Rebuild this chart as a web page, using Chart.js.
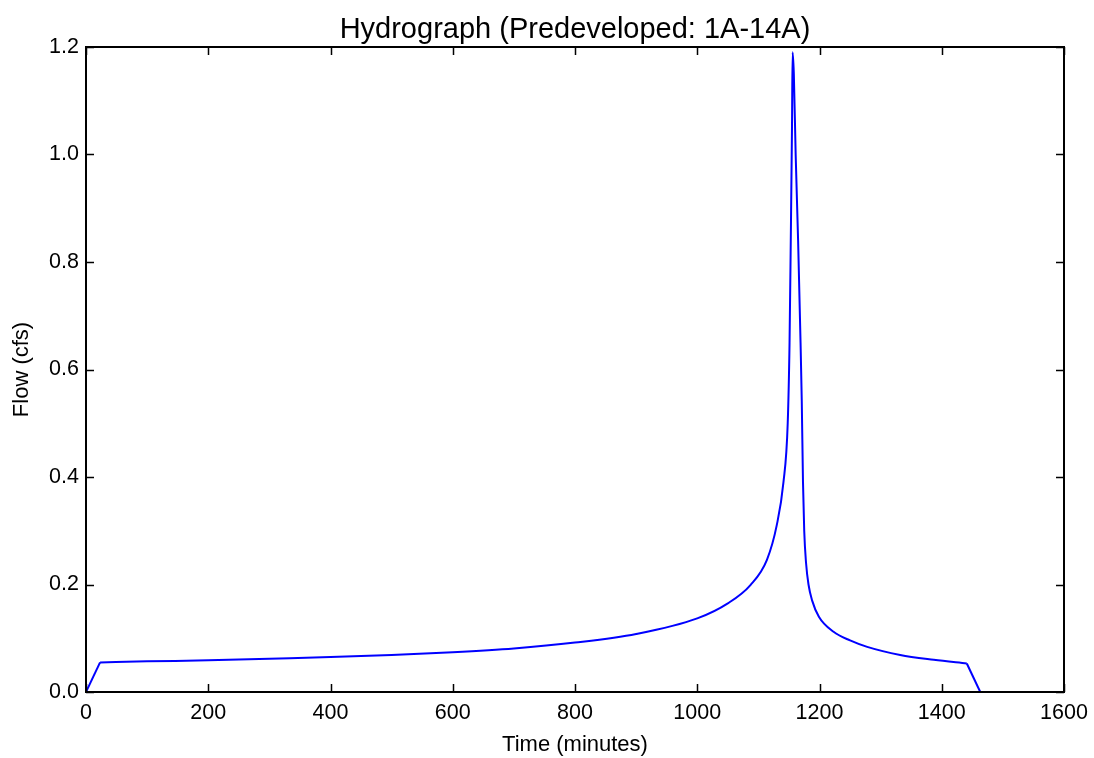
<!DOCTYPE html>
<html lang="en">
<head>
    <meta charset="UTF-8">
    <title>Hydrograph (Predeveloped: 1A-14A)</title>
    <script src="https://cdn.jsdelivr.net/npm/chart.js"></script>
    <style>
        html, body { margin: 0; padding: 0; background: #fff; }
        #wrap { width: 1094px; height: 758px; }
    </style>
</head>
<body>
<div id="wrap"><canvas id="hydro"></canvas></div>
<script>
    // values
    // rising limb from zero to the base flow, main hydrograph, and recession to zero
    const riseTime = [0, 23];
    const riseFlow = [0, 0.055];
    const timeMin = [23, 100, 200, 300, 400, 500, 600, 700, 800, 900, 1000, 1050, 1087, 1114, 1130, 1141, 1148, 1151, 1153, 1155, 1156,
                     1158, 1161, 1165, 1169, 1171, 1173, 1175, 1178, 1182, 1188, 1199, 1223, 1250, 1278, 1332, 1387, 1441];
    const flowCfs = [0.055, 0.057, 0.059, 0.062, 0.065, 0.069, 0.074, 0.081, 0.092, 0.108, 0.137, 0.165, 0.199, 0.246, 0.310, 0.390, 0.50, 0.65, 0.84, 1.05, 1.19,
                     1.15, 1.0, 0.84, 0.65, 0.54, 0.39, 0.30, 0.24, 0.20, 0.17, 0.140, 0.112, 0.096, 0.084, 0.069, 0.060, 0.053];
    const fallTime = [1441, 1463];
    const fallFlow = [0.053, 0];
    const xTicks = [0, 200, 400, 600, 800, 1000, 1200, 1400, 1600];
    const yTicks = [0, 0.2, 0.4, 0.6, 0.8, 1.0, 1.2];
    const chartTitle = 'Hydrograph (Predeveloped: 1A-14A)';

    const font = 'Liberation Sans, Arial, sans-serif';

    // matplotlib-style frame with inward ticks on all four sides, title centred over the axes
    const frameTicks = {
        id: 'frameTicks',
        afterDatasetsDraw(chart) {
            const { ctx, chartArea: a, scales } = chart;
            const len = 8;
            ctx.save();
            ctx.strokeStyle = '#000';
            ctx.lineWidth = 1.5;
            ctx.beginPath();
            xTicks.forEach(v => {
                const px = Math.round(scales.x.getPixelForValue(v)) + 0.5;
                ctx.moveTo(px, a.bottom); ctx.lineTo(px, a.bottom - len);
                ctx.moveTo(px, a.top); ctx.lineTo(px, a.top + len);
            });
            yTicks.forEach(v => {
                const py = Math.round(scales.y.getPixelForValue(v)) + 0.5;
                ctx.moveTo(a.left, py); ctx.lineTo(a.left + len, py);
                ctx.moveTo(a.right, py); ctx.lineTo(a.right - len, py);
            });
            ctx.stroke();
            ctx.lineWidth = 2;
            ctx.strokeRect(a.left, a.top, a.right - a.left, a.bottom - a.top);

            ctx.fillStyle = '#000';
            ctx.font = '29px ' + font;
            ctx.textAlign = 'center';
            ctx.textBaseline = 'middle';
            ctx.fillText(chartTitle, (a.left + a.right) / 2, 30);
            ctx.restore();
        }
    };

    const pts = (xs, ys) => xs.map((t, i) => ({ x: t, y: ys[i] }));
    const lineStyle = { borderColor: '#0000ff', borderWidth: 2, pointRadius: 0, fill: false };

    new Chart(document.getElementById('hydro'), {
        type: 'line',
        data: {
            datasets: [
                { ...lineStyle, data: pts(riseTime, riseFlow), tension: 0 },
                { ...lineStyle, data: pts(timeMin, flowCfs), cubicInterpolationMode: 'monotone' },
                { ...lineStyle, data: pts(fallTime, fallFlow), tension: 0 }
            ]
        },
        options: {
            responsive: true,
            maintainAspectRatio: false,
            animation: false,
            layout: { padding: { left: 0, right: 30, top: 47, bottom: 0 } },
            plugins: {
                legend: { display: false },
                tooltip: { enabled: false },
                title: { display: false }
            },
            scales: {
                x: {
                    type: 'linear',
                    min: 0, max: 1600,
                    afterBuildTicks: s => { s.ticks = xTicks.map(v => ({ value: v })); },
                    afterFit: s => { s.height = 66; s.paddingLeft = 0; s.paddingRight = 0; },
                    grid: { display: false, drawTicks: false },
                    border: { display: false },
                    ticks: {
                        color: '#000', padding: 8, maxRotation: 0, font: { family: font, size: 21.5 },
                        callback: v => String(v)
                    },
                    title: {
                        display: true, text: 'Time (minutes)', color: '#000',
                        font: { family: font, size: 22 }, padding: { top: 0, bottom: 0 }
                    }
                },
                y: {
                    min: 0, max: 1.2,
                    afterBuildTicks: s => { s.ticks = yTicks.map(v => ({ value: v })); },
                    afterFit: s => { s.width = 86; s.paddingTop = 0; s.paddingBottom = 0; },
                    grid: { display: false, drawTicks: false },
                    border: { display: false },
                    ticks: {
                        color: '#000', padding: 7, font: { family: font, size: 21.5 },
                        callback: v => Number(v).toFixed(1)
                    },
                    title: {
                        display: true, text: 'Flow (cfs)', color: '#000',
                        font: { family: font, size: 22 }, padding: { top: 9, bottom: 0 }
                    }
                }
            }
        },
        plugins: [frameTicks]
    });
</script>
</body>
</html>
